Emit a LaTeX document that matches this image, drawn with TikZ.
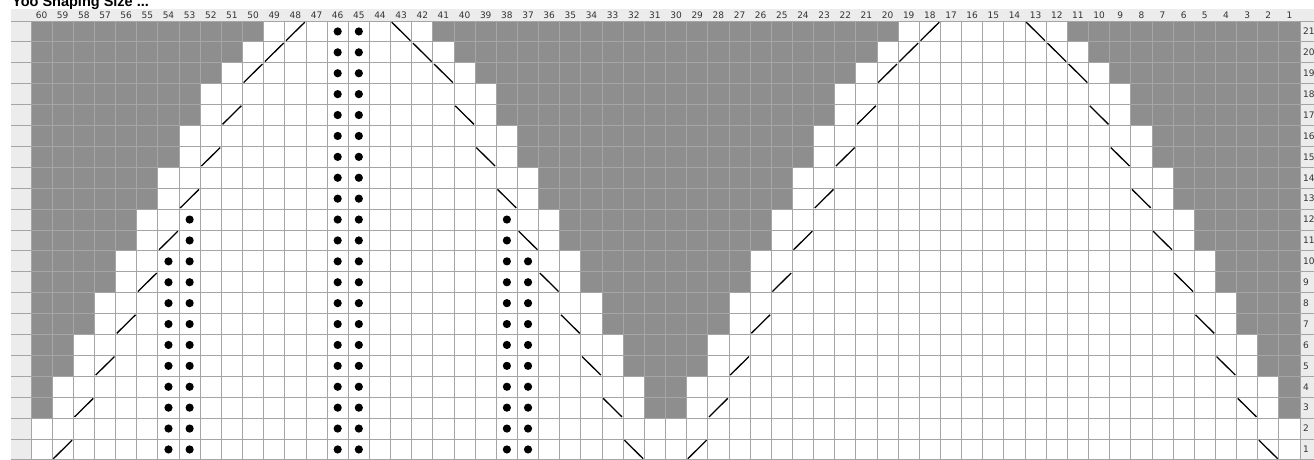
\documentclass[tikz,border=0pt]{standalone}
\usepackage{fontspec}
\setmainfont{DejaVu Sans}
\newfontfamily\titlefont{Liberation Sans}
\definecolor{cellgray}{RGB}{142,142,142}
\definecolor{gridc}{RGB}{165,165,165}
\definecolor{bandc}{RGB}{236,236,236}
\definecolor{numc}{RGB}{51,51,51}
\tikzset{
  cellfill/.style={fill=cellgray},
  gridline/.style={draw=gridc,line width=0.9pt},
  stitchline/.style={draw=black,line width=1.3pt},
  purldot/.style={fill=black},
  colnum/.style={font=\fontsize{9}{10}\selectfont,text=numc,inner sep=0pt},
  rownum/.style={font=\fontsize{9}{10}\selectfont,text=numc,inner sep=0pt,anchor=west},
  titletext/.style={font=\titlefont\bfseries\fontsize{14.5}{16}\selectfont,inner sep=0pt,anchor=base west}
}
\def\CW{21.15}
\def\RH{20.9}
\begin{document}
\begin{tikzpicture}[x=1pt,y=-1pt]
\useasboundingbox (0,0) rectangle (1314,460);
\clip (0,0) rectangle (1314,460);
\fill[white] (0,0) rectangle (1314,460);
% bands
\fill[bandc] (11,9) rectangle (1314,21);
\fill[bandc] (11,9) rectangle (31,460);
\fill[bandc] (1300,9) rectangle (1314,460);
% title
\node[titletext] (title) at (12,6.2) {Yoo Shaping Size ...};
% gray cells
\foreach \r/\L/\Ma/\Mb/\R in {21/50/41/20/11,20/51/40/21/10,19/52/39/22/9,
  18/53/38/23/8,17/53/38/23/8,16/54/37/24/7,15/54/37/24/7,14/55/36/25/6,13/55/36/25/6,
  12/56/35/26/5,11/56/35/26/5,10/57/34/27/4,9/57/34/27/4,8/58/33/28/3,7/58/33/28/3,
  6/59/32/29/2,5/59/32/29/2,4/60/31/30/1,3/60/31/30/1}{
  \pgfmathsetmacro\yt{21+(21-\r)*\RH}
  \pgfmathsetmacro\yb{\yt+\RH}
  \pgfmathsetmacro\xa{31+(61-\L)*\CW}
  \pgfmathsetmacro\xb{31+(60-\Ma)*\CW}
  \pgfmathsetmacro\xc{31+(61-\Mb)*\CW}
  \pgfmathsetmacro\xd{31+(60-\R)*\CW}
  \fill[cellfill] (31,\yt) rectangle (\xa,\yb);
  \fill[cellfill] (\xb,\yt) rectangle (\xc,\yb);
  \fill[cellfill] (\xd,\yt) rectangle (1300,\yb);
}
% grid
\foreach \i in {0,...,60}{
  \pgfmathsetmacro\gx{31+\i*\CW}
  \draw[gridline] (\gx,21) -- (\gx,460);
}
\foreach \j in {0,...,21}{
  \pgfmathsetmacro\gy{21+\j*\RH}
  \draw[gridline] (11,\gy) -- (1314,\gy);
}
% column numbers
\foreach \c in {1,...,60}{
  \pgfmathsetmacro\cx{31+(60-\c+0.5)*\CW}
  \node[colnum] (c\c) at (\cx,15.0) {\c};
}
% row numbers
\foreach \r in {1,...,21}{
  \pgfmathsetmacro\ry{21+(21-\r+0.5)*\RH}
  \node[rownum] (r\r) at (1303,\ry) {\r};
}
% "/" stitches
\foreach \c/\r in {48/21,49/20,50/19,51/17,52/15,53/13,54/11,55/9,56/7,57/5,58/3,59/1,
  18/21,19/20,20/19,21/17,22/15,23/13,24/11,25/9,26/7,27/5,28/3,29/1}{
  \pgfmathsetmacro\xl{31+(60-\c)*\CW+1.2}
  \pgfmathsetmacro\xr{31+(61-\c)*\CW-1.2}
  \pgfmathsetmacro\yt{21+(21-\r)*\RH+1.2}
  \pgfmathsetmacro\yb{21+(22-\r)*\RH-1.2}
  \draw[stitchline] (\xl,\yb) -- (\xr,\yt);
}
% "\" stitches
\foreach \c/\r in {43/21,42/20,41/19,40/17,39/15,38/13,37/11,36/9,35/7,34/5,33/3,32/1,
  13/21,12/20,11/19,10/17,9/15,8/13,7/11,6/9,5/7,4/5,3/3,2/1}{
  \pgfmathsetmacro\xl{31+(60-\c)*\CW+1.2}
  \pgfmathsetmacro\xr{31+(61-\c)*\CW-1.2}
  \pgfmathsetmacro\yt{21+(21-\r)*\RH+1.2}
  \pgfmathsetmacro\yb{21+(22-\r)*\RH-1.2}
  \draw[stitchline] (\xl,\yt) -- (\xr,\yb);
}
% purl dots
\foreach \c/\n in {46/21,45/21,53/12,38/12,54/10,37/10}{
  \foreach \r in {1,...,\n}{
    \pgfmathsetmacro\cx{31+(60-\c+0.5)*\CW}
    \pgfmathsetmacro\cy{21+(21-\r+0.5)*\RH}
    \fill[purldot] (\cx,\cy) circle[radius=4.1];
  }
}
\end{tikzpicture}
\end{document}
